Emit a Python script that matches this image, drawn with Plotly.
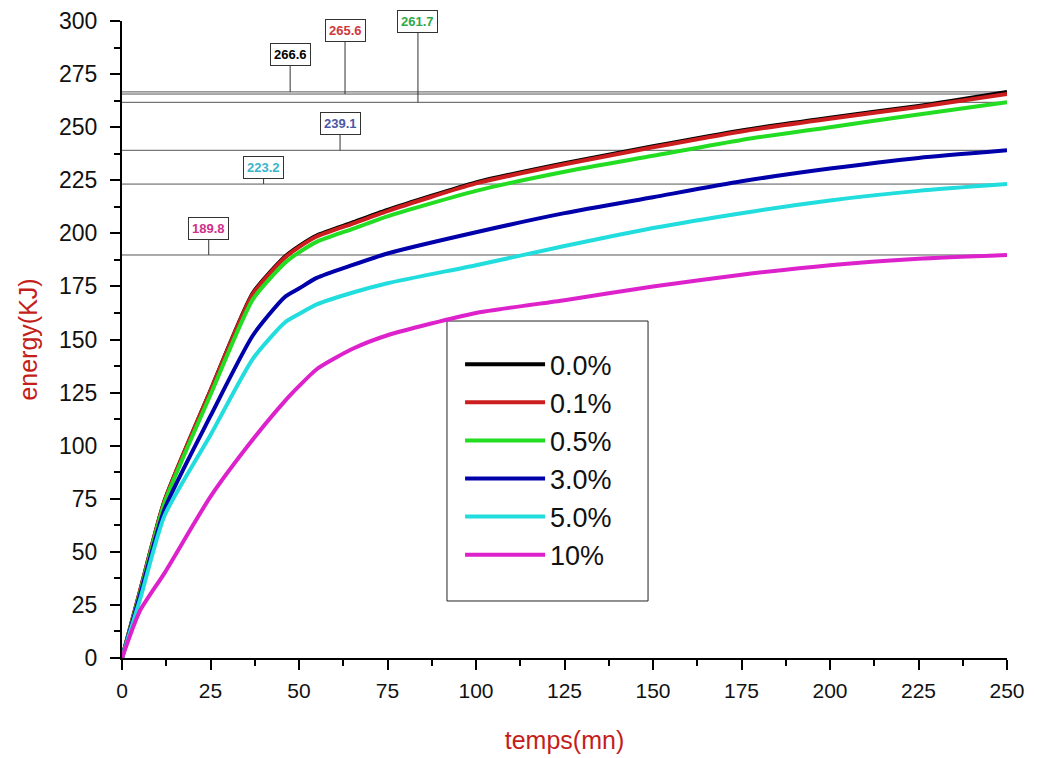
import plotly.graph_objects as go

# ---- data ----
time_mn = [0, 5, 12, 25, 37, 46, 50, 55, 65, 75, 100, 125, 150, 175, 200, 225, 250]

series_names = ["0.0%", "0.1%", "0.5%", "3.0%", "5.0%", "10%"]
e_00 = [0, 31, 74, 126, 172, 189, 194, 199, 205, 211, 224, 233, 241, 248.5, 254.5, 260, 266.6]
e_01 = [0, 31, 74, 126, 171.5, 188.5, 193.5, 198.5, 204.5, 210.5, 223.5, 232.5, 240.5, 248, 254, 259.5, 265.6]
e_05 = [0, 30, 73, 124, 169, 186, 191, 196, 202, 208, 220, 229, 236.5, 244, 250, 256, 261.7]
e_30 = [0, 29, 70, 114, 152, 170, 174, 179, 185, 190.5, 200.5, 209.5, 217, 224.5, 230.5, 235.5, 239.1]
e_50 = [0, 27, 67, 105, 141, 158, 162, 166.5, 172, 176.5, 185, 194, 202.5, 209.5, 215.5, 220, 223.2]
e_10 = [0, 22, 40, 76, 103, 121, 128, 136, 145.5, 152, 162.5, 168.5, 175, 180.5, 185, 188, 189.8]
series_values = [e_00, e_01, e_05, e_30, e_50, e_10]
line_colors = ["#000000", "#cc1e1e", "#22dd22", "#0000aa", "#22dddd", "#dd22cc"]

# final-value markers (value, label colour, label x, pixel offset of label)
final_values = [266.6, 265.6, 261.7, 239.1, 223.2, 189.8]
label_x = [47.5, 63, 83.6, 61.6, 40, 24.5]
label_colors = ["#000000", "#d0383c", "#2fa84a", "#4a58a4", "#38b4cc", "#d0308c"]
label_dy = [-37, -64, -81, -27, -17, -26]

x_ticks = list(range(0, 251, 25))
y_ticks = list(range(0, 301, 25))

fig = go.Figure()

for v in final_values:
    fig.add_shape(type="line", xref="x", yref="y", x0=0, x1=250, y0=v, y1=v,
                  line=dict(color="#555555", width=1), layer="below")

# legend frame
fig.add_shape(type="rect", xref="paper", yref="paper", x0=0.3672, x1=0.5944, y0=0.0895, y1=0.529,
              line=dict(color="#222222", width=1), fillcolor="white", layer="below")

for name, vals, col in zip(series_names, series_values, line_colors):
    fig.add_trace(go.Scatter(x=time_mn, y=vals, mode="lines", name=name,
                             line=dict(color=col, width=4, shape="spline", smoothing=0.6)))

for v, lx, lc, dy in zip(final_values, label_x, label_colors, label_dy):
    fig.add_annotation(x=lx, y=v, xref="x", yref="y", text=f"<b>{v}</b>",
                       showarrow=True, arrowhead=0, arrowwidth=1, arrowcolor="#333333",
                       ax=0, ay=dy, bordercolor="#333333", borderwidth=1, borderpad=3,
                       bgcolor="white", font=dict(color=lc, size=13, family="Liberation Sans, Arial"))

fig.update_layout(
    width=1029, height=750,
    margin=dict(l=114, r=30, t=13, b=100),
    paper_bgcolor="white", plot_bgcolor="white",
    showlegend=True,
    legend=dict(x=0.382, y=0.499, xanchor="left", yanchor="top",
                borderwidth=0, bgcolor="rgba(0,0,0,0)",
                font=dict(size=27, family="Liberation Sans, Arial", color="#111111"),
                itemwidth=80, tracegroupgap=0),
)

fig.update_xaxes(range=[0, 250], tickvals=x_ticks, ticks="outside", ticklen=10, tickwidth=2,
                 tickcolor="black", showline=True, linecolor="black", linewidth=2,
                 showgrid=False, zeroline=False, automargin=False, ticklabelstandoff=3,
                 minor=dict(dtick=12.5, ticks="outside", ticklen=6, tickwidth=2, tickcolor="black"),
                 tickfont=dict(size=21, family="Liberation Sans, Arial", color="#111111"),
                 title=dict(text="temps(mn)", standoff=30,
                            font=dict(size=25, color="#c41e1a", family="Liberation Sans, Arial")))
fig.update_yaxes(range=[0, 300], tickvals=y_ticks, ticks="outside", ticklen=10, tickwidth=2,
                 tickcolor="black", showline=True, linecolor="black", linewidth=2,
                 showgrid=False, zeroline=False, automargin=False, ticklabelstandoff=8,
                 minor=dict(dtick=12.5, ticks="outside", ticklen=6, tickwidth=2, tickcolor="black"),
                 tickfont=dict(size=23, family="Liberation Sans, Arial", color="#111111"),
                 title=dict(text="energy(KJ)", standoff=14,
                            font=dict(size=25, color="#c41e1a", family="Liberation Sans, Arial")))

fig.write_html("out.html")
